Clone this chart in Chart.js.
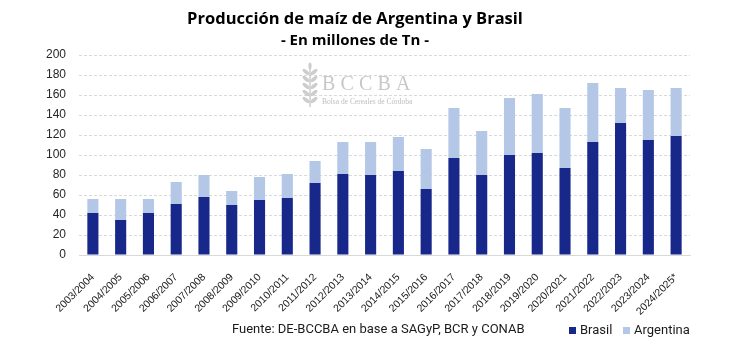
<!DOCTYPE html>
<html>
<head>
<meta charset="utf-8">
<script src="https://cdn.jsdelivr.net/npm/chart.js@4/dist/chart.umd.min.js"></script>
<style>
  html, body { margin: 0; padding: 0; background: #ffffff; }
  #wrap { width: 731px; height: 357px; position: relative; }
</style>
</head>
<body>
<div id="wrap"><canvas id="c" width="731" height="357"></canvas></div>
<script>
const categories = ["2003/2004","2004/2005","2005/2006","2006/2007","2007/2008","2008/2009","2009/2010","2010/2011","2011/2012","2012/2013","2013/2014","2014/2015","2015/2016","2016/2017","2017/2018","2018/2019","2019/2020","2020/2021","2021/2022","2022/2023","2023/2024","2024/2025*"];
const brasil    = [42, 35, 42, 51, 58, 50, 55, 57, 72, 81, 80, 84, 66, 97, 80, 100, 102, 87, 113, 132, 115, 119];
const argentina = [14, 21, 14, 22, 22, 14, 23, 24, 22, 32, 33, 34, 40, 50, 44, 57, 59, 60, 59, 35, 50, 48];
const yTicks = [0, 20, 40, 60, 80, 100, 120, 140, 160, 180, 200];

const titleText = "Producción de maíz de Argentina y Brasil";
const subtitleText = "- En millones de Tn -";
const sourceText = "Fuente: DE-BCCBA en base a SAGyP, BCR y CONAB";

const overlay = {
  id: 'overlay',
  beforeDatasetsDraw(chart) {
    const ctx = chart.ctx;
    ctx.save();
    // watermark logo
    ctx.fillStyle = '#cdcdcd';
    ctx.strokeStyle = '#cdcdcd';
    const sx = 310, sy0 = 64, sy1 = 107;
    ctx.lineWidth = 1.5;
    ctx.beginPath(); ctx.moveTo(sx, sy0 + 4); ctx.lineTo(sx, sy1); ctx.stroke();
    for (let i = 0; i < 5; i++) {
      const y = sy0 + 8 + i * 7;
      for (const d of [-1, 1]) {
        ctx.beginPath();
        ctx.ellipse(sx + d * 4, y, 4.2, 1.8, d * -0.7, 0, Math.PI * 2);
        ctx.fill();
      }
    }
    ctx.beginPath(); ctx.ellipse(sx, sy0 + 2, 1.6, 3.5, 0, 0, Math.PI * 2); ctx.fill();
    ctx.fillStyle = '#c8c8c8';
    ctx.font = '20px "Liberation Serif", "DejaVu Serif", serif';
    ctx.textBaseline = 'alphabetic';
    ctx.textAlign = 'left';
    const letters = "BCCBA";
    let lx = 322;
    for (const ch of letters) { ctx.fillText(ch, lx, 90); lx += 18.5; }
    ctx.fillStyle = '#bdbdbd';
    ctx.font = '7.5px "Liberation Serif", "DejaVu Serif", serif';
    ctx.fillText("Bolsa de Cereales de Córdoba", 322, 104);
    ctx.restore();
  },
  afterDraw(chart) {
    const ctx = chart.ctx;
    ctx.save();
    ctx.fillStyle = '#000000';
    ctx.textAlign = 'center';
    ctx.textBaseline = 'middle';
    ctx.font = 'bold 16.5px "Open Sans", "Noto Sans", sans-serif';
    ctx.fillText(titleText, 355, 19);
    ctx.font = 'bold 15px "Open Sans", "Noto Sans", sans-serif';
    ctx.fillText(subtitleText, 355, 41);
    // source
    ctx.font = '13px Roboto, "Noto Sans", sans-serif';
    ctx.fillStyle = '#1a1a1a';
    ctx.textAlign = 'left';
    ctx.fillText(sourceText, 232, 330);
    // legend
    const ds = chart.data.datasets;
    const xs = [569, 623];
    ds.forEach((d, i) => {
      ctx.fillStyle = d.backgroundColor;
      ctx.fillRect(xs[i], 327, 7, 7);
      ctx.fillStyle = '#1a1a1a';
      ctx.fillText(d.label, xs[i] + 11, 330.5);
    });
    ctx.restore();
  }
};

new Chart(document.getElementById('c'), {
  type: 'bar',
  data: {
    labels: categories,
    datasets: [
      { label: 'Brasil', data: brasil, backgroundColor: '#18288A', stack: 's' },
      { label: 'Argentina', data: argentina, backgroundColor: '#B4C7E7', stack: 's' }
    ]
  },
  options: {
    responsive: false,
    animation: false,
    devicePixelRatio: 1,
    layout: { padding: { left: 0, right: 41, top: 55, bottom: 0 } },
    datasets: { bar: { categoryPercentage: 1.0, barPercentage: 0.4 } },
    plugins: { legend: { display: false }, title: { display: false }, tooltip: { enabled: false } },
    scales: {
      x: {
        stacked: true,
        grid: { display: false },
        border: { display: true, color: '#d9d9d9', width: 1 },
        ticks: {
          color: '#1a1a1a',
          font: { family: '"Liberation Sans", Arial, sans-serif', size: 10.5 },
          maxRotation: 45, minRotation: 45, padding: 8, autoSkip: false
        },
        afterFit(scale) { scale.height = 102; }
      },
      y: {
        stacked: true,
        min: 0, max: 200,
        afterBuildTicks(scale) { scale.ticks = yTicks.map(v => ({ value: v })); },
        grid: { color: '#d9d9d9', drawTicks: false, lineWidth: 1 },
        border: { display: false, dash: [3, 2] },
        ticks: {
          color: '#262626',
          font: { family: '"Liberation Sans", Arial, sans-serif', size: 12 },
          padding: 13
        },
        afterFit(scale) { scale.width = 79; }
      }
    }
  },
  plugins: [overlay]
});
</script>
</body>
</html>
